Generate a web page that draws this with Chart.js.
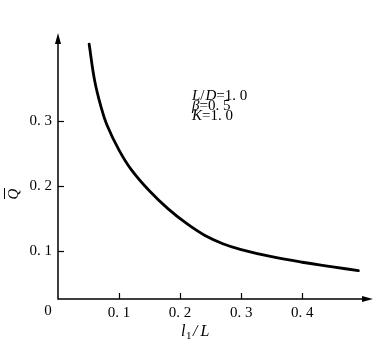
<!DOCTYPE html>
<html><head><meta charset="utf-8">
<script src="https://cdn.jsdelivr.net/npm/chart.js@4/dist/chart.umd.min.js"></script>
<style>html,body{margin:0;padding:0;background:#fff}#c{display:block}</style>
</head><body>
<canvas id="c" width="383" height="352"></canvas>
<script>
const xValues = [0.051, 0.060, 0.070, 0.080, 0.100, 0.120, 0.150, 0.180, 0.210, 0.240, 0.270, 0.300, 0.350, 0.400, 0.450, 0.492];
const qValues = [0.418, 0.362, 0.323, 0.294, 0.255, 0.225, 0.192, 0.165, 0.1425, 0.124, 0.111, 0.102, 0.091, 0.0825, 0.0755, 0.0695];
const xTicks = [0.1, 0.2, 0.3, 0.4];
const yTicks = [0.1, 0.2, 0.3];
const fmt = v => v.toFixed(1).replace('.', '. ');
const SERIF = '"Liberation Serif", "DejaVu Serif", serif';

const overlay = {
  id: 'overlay',
  afterDraw(chart) {
    const ctx = chart.ctx, a = chart.chartArea;
    const xs = chart.scales.x, ys = chart.scales.y;
    ctx.save();
    ctx.strokeStyle = '#000'; ctx.fillStyle = '#000'; ctx.lineWidth = 1.5;
    // axes
    ctx.beginPath();
    ctx.moveTo(a.left, a.top + 8); ctx.lineTo(a.left, a.bottom); ctx.lineTo(a.right - 8, a.bottom);
    ctx.stroke();
    // arrows
    ctx.beginPath();
    ctx.moveTo(a.left, a.top); ctx.lineTo(a.left - 3, a.top + 11); ctx.lineTo(a.left + 3, a.top + 11); ctx.closePath(); ctx.fill();
    ctx.beginPath();
    ctx.moveTo(a.right, a.bottom); ctx.lineTo(a.right - 11, a.bottom - 3); ctx.lineTo(a.right - 11, a.bottom + 3); ctx.closePath(); ctx.fill();
    // tick marks
    ctx.lineWidth = 1.2;
    xTicks.forEach(v => { const p = Math.round(xs.getPixelForValue(v)) + 0.5; ctx.beginPath(); ctx.moveTo(p, a.bottom); ctx.lineTo(p, a.bottom - 6); ctx.stroke(); });
    yTicks.forEach(v => { const p = Math.round(ys.getPixelForValue(v)) + 0.5; ctx.beginPath(); ctx.moveTo(a.left, p); ctx.lineTo(a.left + 6, p); ctx.stroke(); });
    // origin label
    ctx.font = '15px ' + SERIF; ctx.textAlign = 'center'; ctx.textBaseline = 'middle';
    ctx.fillText('0', 48, 311);
    // x title  l1/L
    ctx.textAlign = 'left'; ctx.textBaseline = 'alphabetic';
    let x = 181; const yb = 336;
    ctx.font = 'italic 16px ' + SERIF; ctx.fillText('l', x, yb); x += ctx.measureText('l').width + 0.5;
    ctx.font = '11px ' + SERIF; ctx.fillText('1', x, yb + 3); x += ctx.measureText('1').width + 1.5;
    ctx.font = 'italic 16px ' + SERIF; ctx.fillText('/', x, yb); x += ctx.measureText('/').width + 3;
    ctx.fillText('L', x, yb);
    // y title Q bar rotated
    ctx.save();
    ctx.translate(13, 194); ctx.rotate(-Math.PI / 2);
    ctx.font = 'italic 15px ' + SERIF; ctx.textAlign = 'center'; ctx.textBaseline = 'middle';
    ctx.fillText('Q', 0, 1);
    ctx.lineWidth = 1; ctx.beginPath(); ctx.moveTo(-5, -8.5); ctx.lineTo(6, -8.5); ctx.stroke();
    ctx.restore();
    // annotation
    const lines = [[['L', true], ['/', false], ['D', true], ['=1. 0', false]], [['β', true], ['=0. 5', false]], [['K', true], ['=1. 0', false]]];
    const ys0 = [100, 110, 120];
    lines.forEach((ln, i) => {
      let xx = 192;
      ln.forEach(([t, it]) => {
        ctx.font = (it ? 'italic ' : '') + '15px ' + SERIF;
        ctx.fillText(t, xx, ys0[i]); xx += ctx.measureText(t).width + (t === '/' ? 1 : 0);
      });
    });
    ctx.restore();
  }
};

new Chart(document.getElementById('c'), {
  type: 'scatter',
  data: { datasets: [{ data: xValues.map((x, i) => ({ x, y: qValues[i] })), showLine: true, tension: 0.4, borderColor: '#000', borderWidth: 2.8, pointRadius: 0, fill: false, borderCapStyle: 'round' }] },
  options: {
    responsive: false, animation: false, devicePixelRatio: 1,
    layout: { padding: { top: 33, right: 10, left: 0, bottom: 0 } },
    plugins: { legend: { display: false }, tooltip: { enabled: false } },
    scales: {
      x: { type: 'linear', min: 0, max: 0.516, grid: { display: false, drawTicks: false }, border: { display: false },
           afterBuildTicks: s => { s.ticks = xTicks.map(v => ({ value: v })); },
           afterFit: s => { s.height = 53; },
           ticks: { padding: 5, color: '#000', font: { family: SERIF, size: 15 }, callback: v => fmt(v), maxRotation: 0, autoSkip: false } },
      y: { type: 'linear', min: 0.026, max: 0.435, grid: { display: false, drawTicks: false }, border: { display: false },
           afterBuildTicks: s => { s.ticks = yTicks.map(v => ({ value: v })); },
           afterFit: s => { s.width = 58; },
           ticks: { padding: 6, color: '#000', font: { family: SERIF, size: 15 }, callback: v => fmt(v), autoSkip: false } }
    }
  },
  plugins: [overlay]
});
</script>
</body></html>
